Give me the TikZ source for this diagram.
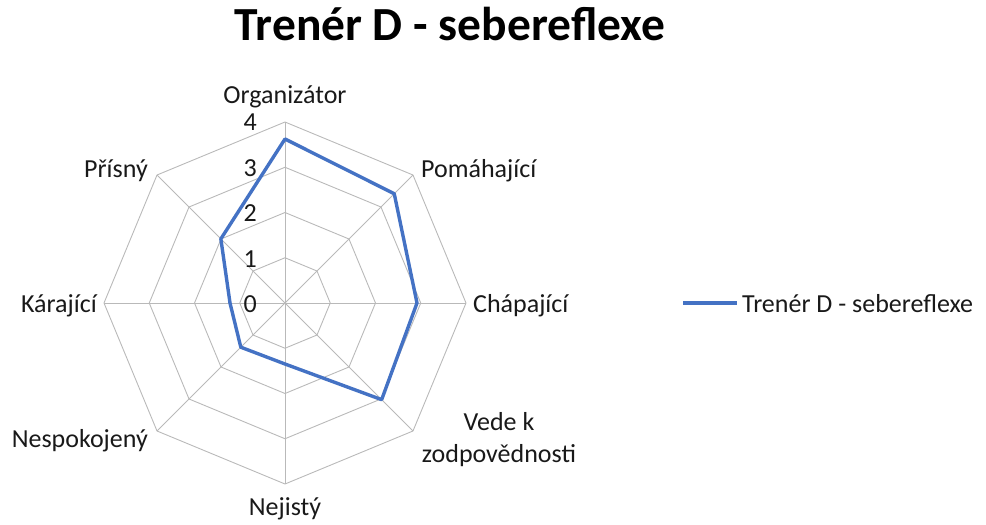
\documentclass[tikz,border=0pt]{standalone}
\usepackage{fontspec}
\setmainfont{Carlito}
\definecolor{serblue}{RGB}{68,114,196}
\definecolor{gridgray}{RGB}{185,185,185}
\begin{document}
\begin{tikzpicture}[x=1pt,y=-1pt,
  gridline/.style={draw=gridgray,line width=0.9pt},
  series/.style={draw=serblue,line width=3.4pt,line join=round},
  lab/.style={font=\fontsize{26}{28}\selectfont,inner sep=0pt,text=black!90},
  ttl/.style={font=\fontsize{47.5}{52}\selectfont\bfseries,inner sep=0pt,anchor=base}]
\useasboundingbox (0,0) rectangle (986,525);
\node[ttl] (title) at (450,40) {Trenér D - sebereflexe};
\begin{scope}[shift={(285,303)},yscale=-1]
  \coordinate (c) at (0,0);
  \foreach \k in {1,2,3,4}{
    \draw[gridline] (90:45.25*\k) -- (45:45.25*\k) -- (0:45.25*\k) -- (-45:45.25*\k)
      -- (-90:45.25*\k) -- (-135:45.25*\k) -- (180:45.25*\k) -- (135:45.25*\k) -- cycle;
  }
  \foreach \a/\n in {90/org,45/pom,0/cha,-45/ved,-90/nej,-135/nes,180/kar,135/pri}{
    \coordinate (ax\n) at (\a:181);
    \draw[gridline] (c) -- (ax\n);
  }
  \coordinate (d1) at (90:164);
  \coordinate (d2) at (45:154.5);
  \coordinate (d3) at (0:132);
  \coordinate (d4) at (-45:136.7);
  \coordinate (d5) at (-90:61);
  \coordinate (d6) at (-135:62.5);
  \coordinate (d7) at (180:55);
  \coordinate (d8) at (135:90.7);
  \draw[series] (d1) -- (d2) -- (d3) -- (d4) -- (d5) -- (d6) -- (d7) -- (d8) -- cycle;
\end{scope}
% scale numbers
\node[lab,anchor=base east] (n4) at (257,130) {4};
\node[lab,anchor=base east] (n3) at (257,176) {3};
\node[lab,anchor=base east] (n2) at (257,221) {2};
\node[lab,anchor=base east] (n1) at (257,267) {1};
\node[lab,anchor=base east] (n0) at (257,312.5) {0};
% axis labels
\node[lab,anchor=base] (lorg) at (285,103) {Organizátor};
\node[lab,anchor=base west] (lpom) at (421,177) {Pomáhající};
\node[lab,anchor=base west] (lcha) at (473,312) {Chápající};
\node[lab,anchor=base,align=center] (lved1) at (499,430) {Vede k};
\node[lab,anchor=base,align=center] (lved2) at (499,462) {zodpovědnosti};
\node[lab,anchor=base] (lnej) at (285,515) {Nejistý};
\node[lab,anchor=base east] (lnes) at (148,447) {Nespokojený};
\node[lab,anchor=base east] (lkar) at (97,312) {Kárající};
\node[lab,anchor=base east] (lpri) at (148,177) {Přísný};
% legend
\coordinate (leg1) at (683,303);
\coordinate (leg2) at (737,303);
\draw[series] (leg1) -- (leg2);
\node[lab,anchor=base west] (legtxt) at (742,312) {Trenér D - sebereflexe};
\end{tikzpicture}
\end{document}
